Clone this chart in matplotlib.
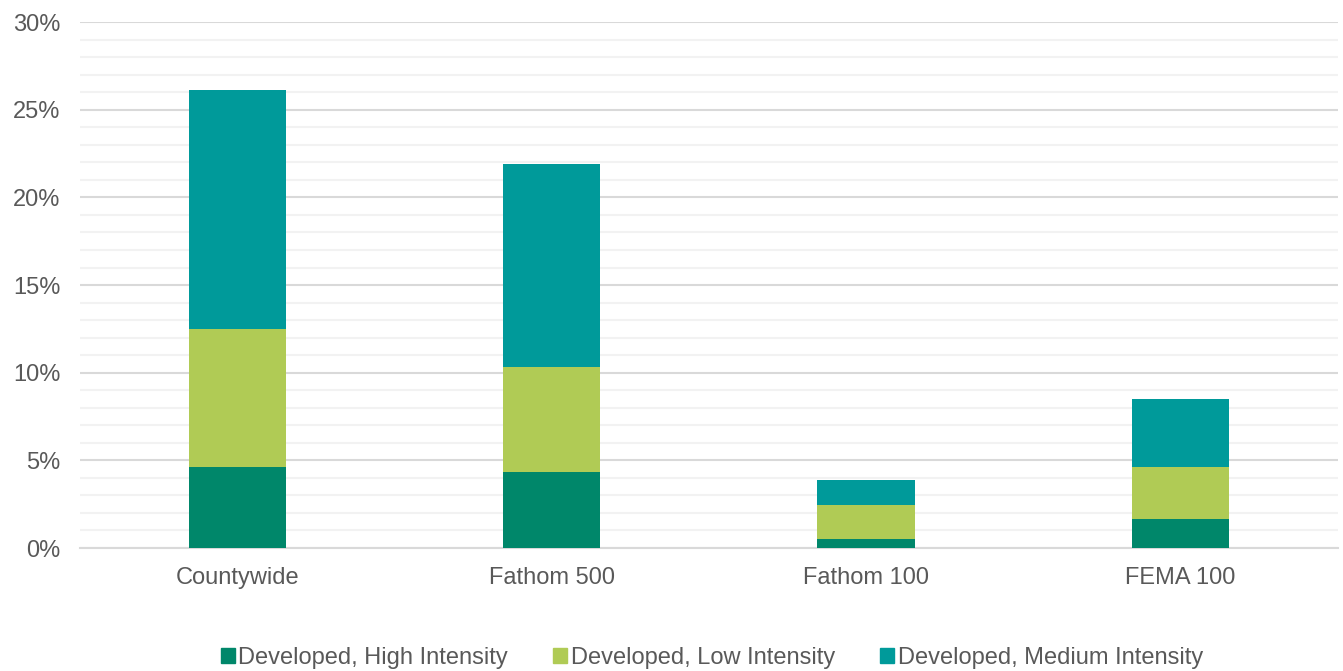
import matplotlib.pyplot as plt
import numpy as np
from matplotlib.ticker import MultipleLocator, FuncFormatter
from matplotlib.patches import Patch

plt.rcParams['font.family'] = ['Liberation Sans', 'DejaVu Sans']

categories = ['Countywide', 'Fathom 500', 'Fathom 100', 'FEMA 100']
high = [4.62, 4.34, 0.51, 1.65]
low = [7.87, 5.99, 1.94, 2.97]
medium = [13.64, 11.57, 1.43, 3.88]
labels = ['Developed, High Intensity', 'Developed, Low Intensity', 'Developed, Medium Intensity']
colors = ['#00876a', '#b0cb55', '#009a9a']

fig = plt.figure(figsize=(13.43, 6.71), dpi=100)
ax = fig.add_axes([0.0596, 0.1833, 0.9364, 0.7837])

x = np.arange(len(categories))
w = 0.31
b1 = np.array(high)
b2 = b1 + np.array(low)
ax.bar(x, high, w, color=colors[0], zorder=3)
ax.bar(x, low, w, bottom=b1, color=colors[1], zorder=3)
ax.bar(x, medium, w, bottom=b2, color=colors[2], zorder=3)

ax.set_xlim(-0.5, 3.5)
ax.set_ylim(0, 30)
ax.yaxis.set_major_locator(MultipleLocator(5))
ax.yaxis.set_minor_locator(MultipleLocator(1))
ax.yaxis.set_major_formatter(FuncFormatter(lambda v, p: f'{v:.0f}%'))
ax.grid(axis='y', which='minor', color='#f2f2f2', linewidth=1.5, zorder=0)
ax.grid(axis='y', which='major', color='#d9d9d9', linewidth=1.5, zorder=1)
for s in ['top', 'right', 'left']:
    ax.spines[s].set_visible(False)
ax.spines['bottom'].set_color('#d9d9d9')
ax.spines['bottom'].set_linewidth(1.5)
ax.tick_params(which='both', length=0)
ax.tick_params(axis='y', labelsize=17, labelcolor='#595959', pad=14)
ax.tick_params(axis='x', labelsize=17, labelcolor='#595959', pad=14)
ax.set_xticks(x)
ax.set_xticklabels(categories)

handles = [Patch(color=c) for c in colors]
fig.legend(handles, labels, loc='center', bbox_to_anchor=(0.53, 0.02), ncol=3,
           frameon=False, fontsize=17, labelcolor='#595959', handlelength=0.6,
           handleheight=0.6, handletextpad=0.15, columnspacing=1.9)

fig.savefig('out.png', dpi=100)
